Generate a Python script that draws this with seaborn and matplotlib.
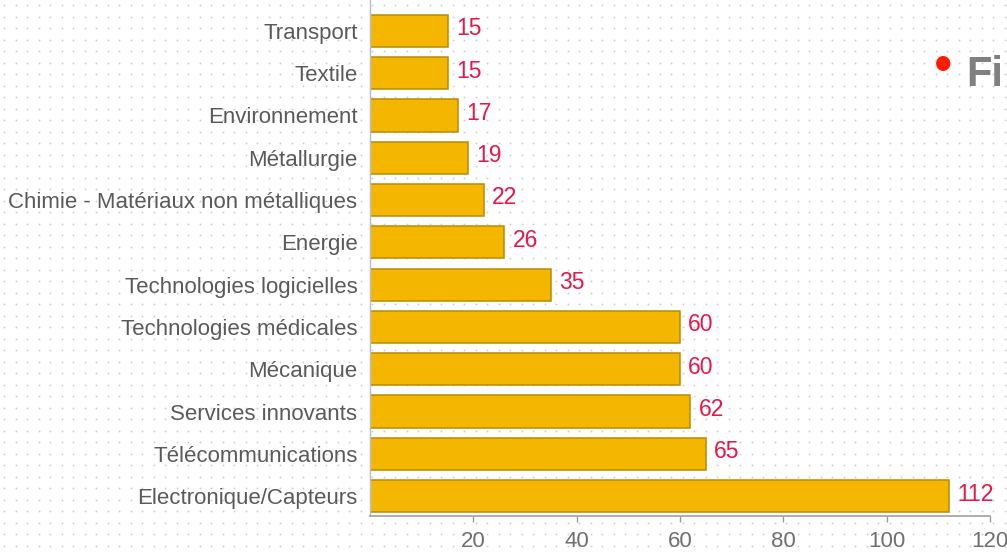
import numpy as np
import pandas as pd
import matplotlib
matplotlib.use('Agg')
import matplotlib.pyplot as plt
import seaborn as sns

# sectors, top to bottom
sectors = ['Transport', 'Textile', 'Environnement', 'Métallurgie',
           'Chimie - Matériaux non métalliques', 'Energie',
           'Technologies logicielles', 'Technologies médicales', 'Mécanique',
           'Services innovants', 'Télécommunications', 'Electronique/Capteurs']
counts = [15, 15, 17, 19, 22, 26, 35, 60, 60, 62, 65, 112]
xticks = [20, 40, 60, 80, 100, 120]

df = pd.DataFrame({'sector': sectors, 'count': counts})

sns.set_style('white')
plt.rcParams['font.family'] = ['Liberation Sans', 'DejaVu Sans']

fig = plt.figure(figsize=(10.07, 5.53), dpi=100)

# dotted background over the whole figure
bg = fig.add_axes([0, 0, 1, 1], zorder=-1)
gx, gy = np.meshgrid(np.arange(4, 1007, 11.5), np.arange(5, 553, 11.5))
bg.scatter(gx.ravel(), gy.ravel(), s=1.8, color='#cfcfcf', linewidths=0)
bg.set_xlim(0, 1007)
bg.set_ylim(553, 0)
bg.axis('off')

ax = fig.add_axes([370 / 1007, 1 - 516 / 553, 620 / 1007, 516 / 553])
ax.patch.set_alpha(0)

sns.barplot(data=df, x='count', y='sector', orient='h', ax=ax,
            color='#F5B600', width=0.76, edgecolor='#B88C00', linewidth=1.1,
            saturation=1)
for p in ax.patches:
    p.set_zorder(2)

for i, v in enumerate(counts):
    ax.text(v + 1.6, i - 0.05, str(v), color='#E5184A', fontsize=16.5,
            va='center', ha='left')

ax.set_xlim(0, 120)
ax.set_ylim(11.47, -0.73)
ax.set_xticks(xticks)
ax.set_xlabel('')
ax.set_ylabel('')
ax.tick_params(axis='x', colors='#9a9a9a', labelcolor='#707070',
               labelsize=16, length=4, width=1, pad=7, direction='out',
               bottom=True)
ax.tick_params(axis='y', labelcolor='#5a5a5a', labelsize=16, length=0, pad=9)
for side in ['top', 'right']:
    ax.spines[side].set_visible(False)
ax.spines['bottom'].set_color('#a0a0a0')
ax.spines['bottom'].set_linewidth(1.2)
ax.spines['left'].set_color('#b8bcd0')
ax.spines['left'].set_linewidth(1.0)

# cut-off slide bullet at top right
fig.text(943 / 1007, 1 - 68 / 553, '\u2022', color='#FF1a00', fontsize=38,
         ha='center', va='center')
fig.text(966 / 1007, 1 - 86 / 553, 'Fi', color='#808080', fontsize=30,
         fontweight='bold', ha='left', va='baseline')

fig.savefig('out.png', dpi=100)
